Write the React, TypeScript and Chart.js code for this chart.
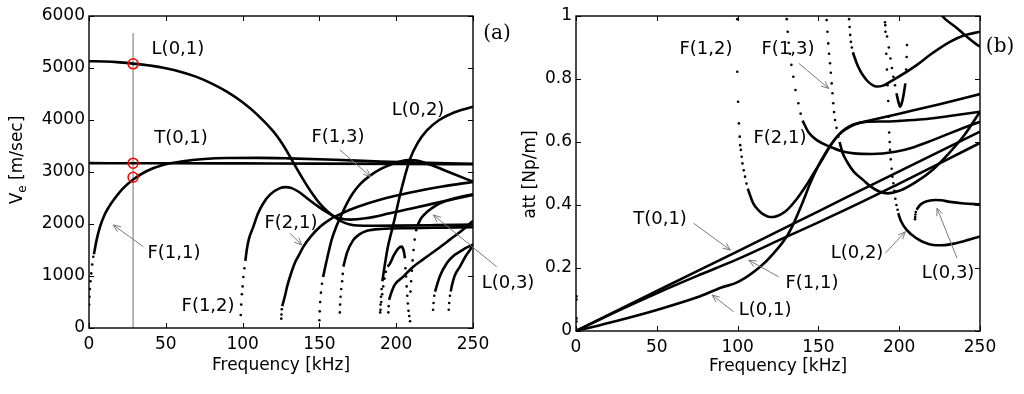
import React, { useEffect, useRef } from "react";
import { Chart, registerables } from "chart.js";
Chart.register(...registerables);

type P = [number, number];

// ---------- axes ----------
const FREQ_TICKS = [0, 50, 100, 150, 200, 250];
const VE_TICKS = [0, 1000, 2000, 3000, 4000, 5000, 6000];
const ATT_TICKS = [0, 0.2, 0.4, 0.6, 0.8, 1];

// ---------- panel (a): energy velocity [m/sec] vs frequency [kHz] ----------
const VE_T01: P[] = [[0, 3170], [50, 3168], [100, 3165], [150, 3162], [200, 3157], [250, 3150]];
const VE_L01: P[] = [[0, 5130], [10, 5125], [20, 5108], [30, 5080], [40, 5045], [50, 4995], [60, 4925], [70, 4830], [80, 4700], [90, 4540], [100, 4340], [110, 4090], [120, 3780], [125, 3580], [130, 3340], [135, 3080], [140, 2830], [145, 2600], [150, 2400], [155, 2250], [160, 2130], [165, 2040], [170, 1990], [175, 1970], [185, 1965], [200, 1968], [225, 1978], [250, 1990]];
const VE_F11_DOTS: P[] = [[0.1, 450], [0.3, 600], [0.6, 750], [1, 900], [1.5, 1050], [2.1, 1220], [2.8, 1370]];
const VE_F11: P[] = [[3.2, 1420], [5, 1700], [7.2, 1950], [10, 2170], [13, 2330], [16, 2460], [22, 2680], [29, 2860], [37, 3010], [48, 3135], [60, 3200], [75, 3250], [90, 3270], [110, 3272], [130, 3262], [160, 3235], [190, 3200], [220, 3175], [250, 3160]];
const VE_F12_DOTS: P[] = [[98.8, 250], [99.1, 450], [99.5, 650], [100, 800], [100.5, 980], [101.2, 1150]];
const VE_F12: P[] = [[101.8, 1290], [102.7, 1500], [104, 1700], [107, 1950], [110, 2200], [113.5, 2400], [118, 2570], [124, 2686], [128, 2710], [132, 2690], [137, 2610], [143, 2470], [150, 2320], [157, 2190], [163, 2110], [170, 2085], [180, 2110], [195, 2200], [210, 2300], [230, 2430], [250, 2560]];
const VE_F21_DOTS: P[] = [[125.2, 180], [125.3, 260], [125.5, 360]];
const VE_F21: P[] = [[125.8, 420], [127.6, 620], [129, 800], [130.9, 990], [134, 1250], [137, 1420], [139.5, 1560], [145, 1780], [151, 1960], [157, 2090], [165, 2210], [175, 2330], [190, 2470], [210, 2610], [230, 2720], [250, 2810]];
const VE_F13_DOTS: P[] = [[150, 150], [150.2, 320], [150.5, 500], [151, 680], [151.7, 850]];
const VE_F13: P[] = [[152.4, 980], [154, 1200], [155.8, 1436], [158, 1700], [161, 1950], [164, 2150], [168, 2400], [172, 2600], [177, 2780], [183, 2930], [190, 3060], [197, 3150], [203, 3205], [208, 3228], [212, 3225], [218, 3185], [225, 3110], [235, 2990], [250, 2815]];
const VE_C163_DOTS: P[] = [[163.3, 300], [163.5, 450], [163.8, 600], [164.2, 750], [164.8, 900], [165.2, 1040]];
const VE_C163: P[] = [[165.6, 1180], [168, 1450], [172, 1690], [176, 1800], [181, 1870], [190, 1905], [210, 1920], [230, 1930], [250, 1940]];
const VE_L02_DOTS: P[] = [[189.6, 300], [189.8, 450], [190.1, 600], [190.5, 750]];
const VE_L02: P[] = [[191, 900], [192.5, 1200], [194.5, 1550], [196.5, 1800], [199, 2100], [202, 2500], [205, 2850], [209, 3250], [214, 3560], [220, 3800], [228, 4000], [238, 4150], [250, 4255]];
const VE_ARC_DOTS_UP: P[] = [[189.8, 350], [190.3, 500], [190.9, 650], [191.6, 800], [192.4, 950], [193.3, 1080]];
const VE_ARC: P[] = [[194.5, 1180], [196, 1244], [198.5, 1400], [201.4, 1532], [203.5, 1564], [205, 1470], [205.7, 1340]];
const VE_ARC_DOTS_DOWN: P[] = [[206, 1150], [206.4, 990], [206.8, 800], [207.2, 620], [207.6, 470], [208, 330], [208.5, 230], [209, 130]];
const VE_C195_DOTS: P[] = [[194.9, 300], [195.1, 420]];
const VE_C195: P[] = [[195.4, 540], [196.5, 650], [199, 830], [204.6, 987], [210, 1150], [218, 1330], [226, 1500], [235, 1700], [243, 1880], [250, 2060]];
const VE_C209_DOTS: P[] = [[209.3, 700], [209.7, 900], [210.2, 1100], [210.7, 1300], [211.3, 1500], [212, 1700], [213, 1880]];
const VE_C209: P[] = [[214, 1980], [216, 2100], [220, 2230], [225, 2340], [232, 2440], [240, 2510], [250, 2570]];
const VE_C224_DOTS: P[] = [[224, 350], [224.3, 480], [224.8, 620]];
const VE_C224: P[] = [[225.3, 700], [226.3, 800], [228.5, 1000], [232.9, 1244], [237, 1380], [241.5, 1468], [246, 1550], [250, 1600]];
const VE_C234_DOTS: P[] = [[234.2, 350], [234.5, 480], [235, 620]];
const VE_C234: P[] = [[235.5, 700], [236.1, 795], [238, 1000], [241.5, 1180], [245, 1370], [248, 1500], [250, 1600]];
const VE_CURSOR: P[] = [[28.7, 0], [28.7, 5670]];
const VE_MARKS: P[] = [[28.7, 5080], [28.7, 3170], [28.7, 2900]];

// ---------- panel (b): attenuation [Np/m] vs frequency [kHz] ----------
const AT_T01: P[] = [[0, 0], [50, 0.127], [100, 0.253], [150, 0.38], [200, 0.507], [250, 0.633]];
const AT_F11: P[] = [[0, 0], [25, 0.062], [50, 0.12], [75, 0.175], [100, 0.228], [128, 0.294], [150, 0.345], [175, 0.405], [200, 0.468], [225, 0.532], [250, 0.597]];
const AT_L01: P[] = [[0, 0], [25, 0.032], [50, 0.067], [75, 0.107], [90, 0.138], [100, 0.155], [114, 0.204], [122, 0.245], [130.4, 0.3], [135, 0.345], [140, 0.405], [145, 0.47], [150, 0.525], [155, 0.57], [160, 0.607], [165, 0.635], [170, 0.652], [175, 0.66], [185, 0.672], [200, 0.69], [225, 0.72], [250, 0.752]];
const AT_F12_DOTS: P[] = [[99.8, 0.99], [99.8, 0.823], [100.3, 0.728], [100.8, 0.659], [101.3, 0.617], [101.6, 0.59], [102, 0.575], [102.5, 0.553], [103, 0.532], [103.8, 0.51], [104.6, 0.49], [105.5, 0.468]];
const AT_F12: P[] = [[106.3, 0.452], [109.7, 0.405], [113, 0.383], [116, 0.37], [119, 0.363], [122, 0.362], [125, 0.366], [129.5, 0.379], [136, 0.415], [141.9, 0.458], [147, 0.5], [152.2, 0.543], [158.4, 0.596], [163, 0.625], [166.7, 0.64], [172, 0.655], [179, 0.664], [190, 0.665], [200, 0.667], [215, 0.672], [230, 0.682], [250, 0.696]];
const AT_F21_DOTS: P[] = [[130.4, 0.99], [131, 0.95], [131.6, 0.915], [132.4, 0.88], [133.3, 0.845], [134.5, 0.807], [135.8, 0.765], [137.6, 0.723], [139, 0.69]];
const AT_F21: P[] = [[140.2, 0.668], [144, 0.63], [149, 0.606], [157.2, 0.585], [165, 0.57], [172, 0.564], [183, 0.562], [197.6, 0.569], [208, 0.582], [218.2, 0.601], [230, 0.625], [240, 0.645], [250, 0.664]];
const AT_F13_DOTS: P[] = [[155.1, 0.987], [155.6, 0.95], [156.1, 0.913], [156.6, 0.88], [157.2, 0.85], [157.7, 0.82], [158.2, 0.786], [158.7, 0.755], [159.2, 0.723], [159.7, 0.695], [160.3, 0.67], [161.2, 0.645], [162.3, 0.617]];
const AT_F13: P[] = [[163.1, 0.6], [165, 0.565], [168, 0.535], [172, 0.505], [177.8, 0.479], [182, 0.46], [188, 0.442], [193, 0.437], [200, 0.445], [210, 0.472], [221, 0.513], [230, 0.56], [240, 0.62], [250, 0.696]];
const AT_TOP1_DOTS: P[] = [[169, 0.99], [169.3, 0.965], [169.7, 0.94], [170.1, 0.918], [170.7, 0.9]];
const AT_TOP1: P[] = [[171.3, 0.885], [173.7, 0.85], [175.5, 0.83], [177.8, 0.81], [181, 0.79], [186, 0.776], [190, 0.779], [194.3, 0.791], [200, 0.808], [210.8, 0.844], [220, 0.88], [231.4, 0.918], [240, 0.938], [250, 0.95]];
const AT_TOP2: P[] = [[225, 1.01], [228.5, 0.99], [234.7, 0.966], [239, 0.947], [243, 0.929], [247, 0.913], [250, 0.903]];
const AT_L02_DOTS: P[] = [[191.2, 0.98], [191.5, 0.95], [192, 0.88], [192.4, 0.83], [192.8, 0.78], [193.2, 0.73], [193.5, 0.68], [193.8, 0.63], [194.1, 0.6], [194.3, 0.575], [194.8, 0.545], [195.3, 0.515], [195.8, 0.49], [196.4, 0.469], [197, 0.445], [197.6, 0.42], [198.3, 0.4], [199, 0.385]];
const AT_L02: P[] = [[199.4, 0.374], [201, 0.35], [204.6, 0.321], [210.8, 0.294], [216, 0.28], [221, 0.273], [226, 0.272], [231.4, 0.275], [240, 0.285], [250, 0.3]];
const AT_V_DOTS: P[] = [[191.4, 0.971], [192.5, 0.935], [193.6, 0.9], [194.6, 0.865], [195.5, 0.835], [196.4, 0.807], [197.4, 0.78], [204.3, 0.83], [204.6, 0.87], [204.8, 0.908]];
const AT_V: P[] = [[198.3, 0.755], [199.4, 0.73], [200.5, 0.712], [201.5, 0.722], [202.5, 0.744], [203.2, 0.765], [203.8, 0.786]];
const AT_L03_DOTS: P[] = [[209.8, 0.355], [209.9, 0.362], [210, 0.37], [210.3, 0.378]];
const AT_L03: P[] = [[210.8, 0.385], [212.9, 0.4], [216, 0.41], [219, 0.414], [222.4, 0.416], [226, 0.415], [231.4, 0.41], [240, 0.405], [250, 0.402]];
const AT_EDGE_DOTS: P[] = [[0.3, 0.03], [0.3, 0.04], [0.3, 0.1], [0.3, 0.11]];

// ---------- annotations (data units) ----------
type Note = { text: string; x: number; y: number; serif?: boolean };
type Arrow = [number, number, number, number];

const VE_NOTES: Note[] = [
  { text: "L(0,1)", x: 57.9, y: 5365 },
  { text: "T(0,1)", x: 59.9, y: 3654 },
  { text: "F(1,1)", x: 55.3, y: 1442 },
  { text: "F(1,2)", x: 77.5, y: 423 },
  { text: "F(2,1)", x: 131.5, y: 2019 },
  { text: "F(1,3)", x: 162.1, y: 3673 },
  { text: "L(0,2)", x: 214.2, y: 4192 },
  { text: "L(0,3)", x: 272.8, y: 865 },
  { text: "(a)", x: 265.6, y: 5654, serif: true },
];
const VE_ARROWS: Arrow[] = [
  [35.4, 1563, 15.8, 1981],
  [130.9, 1821, 138.5, 1596],
  [163.4, 3423, 183.4, 2910],
  [265.4, 1179, 224.2, 2173],
];
const AT_NOTES: Note[] = [
  { text: "F(1,2)", x: 80.4, y: 0.895 },
  { text: "F(1,3)", x: 131.2, y: 0.895 },
  { text: "F(2,1)", x: 126.2, y: 0.613 },
  { text: "T(0,1)", x: 52, y: 0.356 },
  { text: "F(1,1)", x: 146, y: 0.152 },
  { text: "L(0,1)", x: 117, y: 0.067 },
  { text: "L(0,2)", x: 173.9, y: 0.248 },
  { text: "L(0,3)", x: 230.2, y: 0.184 },
  { text: "(b)", x: 262.4, y: 0.902, serif: true },
];
const AT_ARROWS: Arrow[] = [
  [137.8, 0.85, 156.4, 0.77],
  [72.8, 0.342, 95.5, 0.257],
  [125.4, 0.172, 106.9, 0.225],
  [97.6, 0.061, 84.2, 0.114],
  [191.4, 0.247, 203.8, 0.315],
  [235.8, 0.231, 223.4, 0.39],
];

const SANS = "'DejaVu Sans', sans-serif";
const SERIF = "'DejaVu Serif', serif";

const toXY = (pts: P[]) => pts.map(([x, y]) => ({ x, y }));
const solid = (pts: P[]) => ({
  data: toXY(pts), showLine: true, borderColor: "#000", borderWidth: 2.6,
  pointRadius: 0, pointHoverRadius: 0, cubicInterpolationMode: "monotone", order: 1,
});
const dots = (pts: P[]) => ({
  data: toXY(pts), showLine: false, pointRadius: 1.3, pointBackgroundColor: "#000",
  pointBorderWidth: 0, pointHoverRadius: 0, order: 1,
});

function decor(cfg: any) {
  return {
    id: "decor",
    afterDatasetsDraw(chart: any) {
      const { ctx, chartArea: a, scales } = chart;
      const sx = scales.x, sy = scales.y;
      ctx.save();
      // box
      ctx.strokeStyle = "#000";
      ctx.lineWidth = 1.4;
      ctx.strokeRect(a.left, a.top, a.right - a.left, a.bottom - a.top);
      // inward ticks on all sides
      ctx.lineWidth = 1;
      ctx.beginPath();
      for (const t of cfg.xTicks) {
        const px = Math.round(sx.getPixelForValue(t)) + 0.5;
        ctx.moveTo(px, a.bottom); ctx.lineTo(px, a.bottom - 5);
        ctx.moveTo(px, a.top); ctx.lineTo(px, a.top + 5);
      }
      for (const t of cfg.yTicks) {
        const py = Math.round(sy.getPixelForValue(t)) + 0.5;
        ctx.moveTo(a.left, py); ctx.lineTo(a.left + 5, py);
        ctx.moveTo(a.right, py); ctx.lineTo(a.right - 5, py);
      }
      ctx.stroke();
      // arrows
      ctx.strokeStyle = "#7a7a7a";
      ctx.lineWidth = 1;
      for (const [x1, y1, x2, y2] of cfg.arrows) {
        const p1x = sx.getPixelForValue(x1), p1y = sy.getPixelForValue(y1);
        const p2x = sx.getPixelForValue(x2), p2y = sy.getPixelForValue(y2);
        const ang = Math.atan2(p2y - p1y, p2x - p1x);
        ctx.beginPath();
        ctx.moveTo(p1x, p1y); ctx.lineTo(p2x, p2y);
        ctx.moveTo(p2x - 8 * Math.cos(ang - 0.4), p2y - 8 * Math.sin(ang - 0.4));
        ctx.lineTo(p2x, p2y);
        ctx.lineTo(p2x - 8 * Math.cos(ang + 0.4), p2y - 8 * Math.sin(ang + 0.4));
        ctx.stroke();
      }
      // notes
      ctx.fillStyle = "#000";
      ctx.textAlign = "center";
      ctx.textBaseline = "middle";
      for (const n of cfg.notes) {
        ctx.font = n.serif ? `20px ${SERIF}` : `18px ${SANS}`;
        ctx.fillText(n.text, sx.getPixelForValue(n.x), sy.getPixelForValue(n.y));
      }
      // x title
      ctx.font = `17px ${SANS}`;
      ctx.fillText("Frequency [kHz]", (a.left + a.right) / 2, a.bottom + cfg.xTitleDy);
      // y title (rotated, with optional subscript)
      ctx.translate(cfg.yTitleX, cfg.yTitleY);
      ctx.rotate(-Math.PI / 2);
      const parts: [string, boolean][] = cfg.yTitle;
      const fontOf = (sub: boolean) => (sub ? `12px ${SANS}` : `17px ${SANS}`);
      let total = 0;
      for (const [s, sub] of parts) { ctx.font = fontOf(sub); total += ctx.measureText(s).width; }
      let cx = -total / 2;
      ctx.textAlign = "left";
      for (const [s, sub] of parts) {
        ctx.font = fontOf(sub);
        ctx.fillText(s, cx, sub ? 5 : 0);
        cx += ctx.measureText(s).width;
      }
      ctx.restore();
    },
  };
}

function makeChart(canvas: HTMLCanvasElement, o: any) {
  const tickFont = { family: SANS, size: 17 };
  return new Chart(canvas, {
    type: "scatter",
    data: { datasets: o.datasets },
    options: {
      animation: false,
      responsive: false,
      devicePixelRatio: 1,
      events: [],
      layout: { padding: o.padding },
      plugins: { legend: { display: false }, tooltip: { enabled: false } },
      scales: {
        x: {
          type: "linear", min: 0, max: 250,
          grid: { display: false, drawTicks: false }, border: { display: false },
          ticks: { font: tickFont, color: "#000", padding: 6, maxRotation: 0, autoSkip: false, callback: (v: any) => String(v) },
          afterBuildTicks: (s: any) => { s.ticks = FREQ_TICKS.map((value) => ({ value })); },
          afterFit: (s: any) => { s.height = 40; },
        },
        y: {
          type: "linear", min: o.yMin, max: o.yMax,
          grid: { display: false, drawTicks: false }, border: { display: false },
          ticks: { font: tickFont, color: "#000", padding: 4, autoSkip: false, callback: (v: any) => String(v) },
          afterBuildTicks: (s: any) => { s.ticks = o.yTicks.map((value: number) => ({ value })); },
          afterFit: (s: any) => { s.width = o.yWidth; },
        },
      },
    } as any,
    plugins: [decor(o.decor)],
  } as any);
}

export default function App() {
  const leftRef = useRef<HTMLCanvasElement>(null);
  const rightRef = useRef<HTMLCanvasElement>(null);

  useEffect(() => {
    const left = makeChart(leftRef.current!, {
      padding: { left: 0, top: 16, right: 87, bottom: 26 },
      yWidth: 89, yMin: 0, yMax: 6000, yTicks: VE_TICKS,
      datasets: [
        { data: toXY(VE_MARKS), showLine: false, pointRadius: 5, pointBorderColor: "#ff0000", pointBorderWidth: 1.5, pointBackgroundColor: "rgba(0,0,0,0)", pointHoverRadius: 0, order: 0 },
        solid(VE_T01), solid(VE_L01), solid(VE_F11), dots(VE_F11_DOTS),
        solid(VE_F12), dots(VE_F12_DOTS), solid(VE_F21), dots(VE_F21_DOTS),
        solid(VE_F13), dots(VE_F13_DOTS), solid(VE_C163), dots(VE_C163_DOTS),
        solid(VE_L02), dots(VE_L02_DOTS), solid(VE_ARC), dots(VE_ARC_DOTS_UP), dots(VE_ARC_DOTS_DOWN),
        solid(VE_C195), dots(VE_C195_DOTS), solid(VE_C209), dots(VE_C209_DOTS),
        solid(VE_C224), dots(VE_C224_DOTS), solid(VE_C234), dots(VE_C234_DOTS),
        { data: toXY(VE_CURSOR), showLine: true, borderColor: "#707070", borderWidth: 1, pointRadius: 0, pointHoverRadius: 0, order: 2 },
      ],
      decor: {
        notes: VE_NOTES, arrows: VE_ARROWS, xTicks: FREQ_TICKS, yTicks: VE_TICKS,
        xTitleDy: 38, yTitleX: 18, yTitleY: 160,
        yTitle: [["V", false], ["e", true], [" [m/sec]", false]],
      },
    });
    const right = makeChart(rightRef.current!, {
      padding: { left: 0, top: 16, right: 44, bottom: 23 },
      yWidth: 64, yMin: 0, yMax: 1, yTicks: ATT_TICKS,
      datasets: [
        solid(AT_T01), solid(AT_F11), solid(AT_L01),
        solid(AT_F12), dots(AT_F12_DOTS), solid(AT_F21), dots(AT_F21_DOTS),
        solid(AT_F13), dots(AT_F13_DOTS), solid(AT_TOP1), dots(AT_TOP1_DOTS), solid(AT_TOP2),
        solid(AT_L02), dots(AT_L02_DOTS), solid(AT_V), dots(AT_V_DOTS),
        solid(AT_L03), dots(AT_L03_DOTS), dots(AT_EDGE_DOTS),
      ],
      decor: {
        notes: AT_NOTES, arrows: AT_ARROWS, xTicks: FREQ_TICKS, yTicks: ATT_TICKS,
        xTitleDy: 36, yTitleX: 18.5, yTitleY: 174.5,
        yTitle: [["att [Np/m]", false]],
      },
    });
    return () => { left.destroy(); right.destroy(); };
  }, []);

  return (
    <div style={{ position: "absolute", left: 0, top: 0, width: 1024, height: 394, background: "#fff", overflow: "hidden" }}>
      <canvas ref={leftRef} width={560} height={394} style={{ position: "absolute", left: 0, top: 0, width: 560, height: 394 }} />
      <canvas ref={rightRef} width={512} height={394} style={{ position: "absolute", left: 512, top: 0, width: 512, height: 394 }} />
    </div>
  );
}
